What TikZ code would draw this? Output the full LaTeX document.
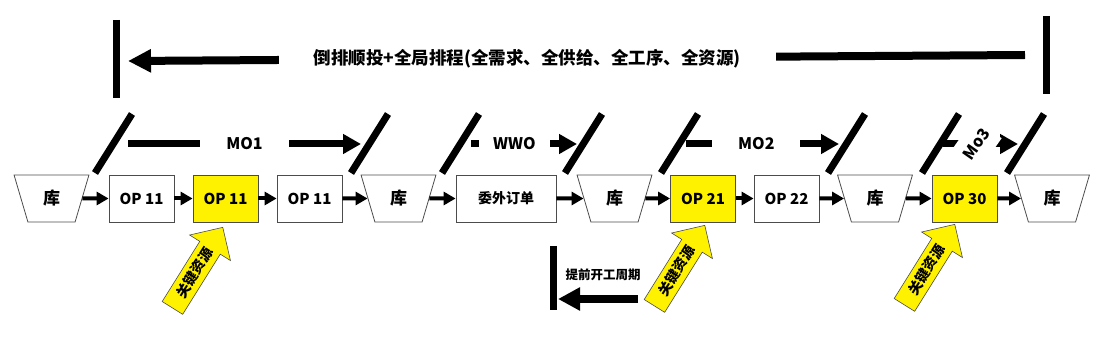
\documentclass[tikz,border=0pt]{standalone}
\usepackage{fontspec}
\setmainfont{Noto Sans CJK SC}
\usetikzlibrary{shapes.geometric,shapes.arrows,arrows.meta}

\begin{document}
\begin{tikzpicture}[x=1pt,y=-1pt,
  op/.style={draw=black!70,line width=0.8pt,minimum width=65pt,minimum height=47pt,inner sep=0pt,font=\fontsize{15}{18}\selectfont\bfseries},
  crit/.style={op,fill=yellow},
  ku/.style={trapezium,shape border rotate=180,trapezium stretches=true,trapezium angle=73,draw=black!70,line width=0.8pt,minimum width=75pt,minimum height=47pt,inner sep=0pt,font=\fontsize{17}{20}\selectfont\bfseries},
  flow/.style={line width=4pt,-{Triangle[length=12pt,width=13pt]}},
  bar/.style={line width=7pt},
  mo/.style={line width=7pt,-{Triangle[length=18pt,width=19pt]}},
  molabel/.style={fill=white,inner xsep=0pt,inner ysep=2pt,font=\fontsize{16}{19}\selectfont\bfseries},
  keyres/.style={single arrow,draw=black!70,fill=yellow,line width=0.6pt,minimum height=95pt,single arrow head extend=12pt,inner xsep=2pt,inner ysep=5pt,anchor=tip,rotate=58,font=\fontsize{14}{16}\selectfont\bfseries}]
 \useasboundingbox (0,0) rectangle (1112,339);
 % top: backward scheduling span
 \coordinate (tR) at (1025,55); \coordinate (tL) at (128,61);
 \draw[bar] (116,20) -- (116,98); \draw[bar] (1046,16) -- (1046,94);
 \draw[line width=8pt,-{Triangle[length=23pt,width=22pt]}] (tR) -- node[pos=0.555,fill=white,inner xsep=35pt,inner ysep=2pt,font=\fontsize{17.5}{20}\selectfont\bfseries] (title) {倒排顺投+全局排程(全需求、全供给、全工序、全资源)} (tL);
 % order segments
 \coordinate (m1s) at (128,144); \coordinate (m1e) at (361,144);
 \coordinate (w1s) at (471,144); \coordinate (w1e) at (577,144);
 \coordinate (m2s) at (686,144); \coordinate (m2e) at (839,144);
 \coordinate (m3s) at (943,144); \coordinate (m3e) at (1018,144);
 \draw[mo] (m1s) -- node[molabel,minimum width=89pt] (mo1) {MO1} (m1e);
 \draw[mo] (w1s) -- node[molabel,pos=0.41,minimum width=71pt] (wwo) {WWO} (w1e);
 \draw[mo] (m2s) -- node[molabel,pos=0.46,minimum width=88pt] (mo2) {MO2} (m2e);
 \draw[mo] (m3s) -- node[molabel,pos=0.45,rotate=55,inner xsep=2pt,inner ysep=11pt] (mo3) {Mo3} (m3e);
 \foreach \x in {95,351,442,565,661,828,922,1007} \draw[bar] (\x,173) -- ++(37,-59);
 % process row
 \node[ku] (k1) at (51.5,198.5) {库};
 \node[op] (op1) at (141.5,198.5) {OP 11};
 \node[crit] (op2) at (225.5,198.5) {OP 11};
 \node[op] (op3) at (309.5,198.5) {OP 11};
 \node[ku] (k2) at (398.5,198.5) {库};
 \node[op,minimum width=100pt,font=\fontsize{14}{17}\selectfont\bfseries] (ww) at (506,198.5) {委外订单};
 \node[ku] (k3) at (614.5,198.5) {库};
 \node[crit] (op4) at (703,198.5) {OP 21};
 \node[op] (op5) at (786.5,198.5) {OP 22};
 \node[ku] (k4) at (875,198.5) {库};
 \node[crit] (op6) at (964.5,198.5) {OP 30};
 \node[ku] (k5) at (1052,198.5) {库};
 \foreach \a/\b in {k1/op1,op1/op2,op2/op3,op3/k2,k2/ww,ww/k3,k3/op4,op4/op5,op5/k4,k4/op6,op6/k5} \draw[flow] (\a) -- (\b);
 % key resources
 \node[keyres] (kr1) at (223,227) {关键资源};
 \node[keyres] (kr2) at (705,225) {关键资源};
 \node[keyres] (kr3) at (955,224) {关键资源};
 % lead time
 \coordinate (lts) at (638,299); \coordinate (lte) at (558,299);
 \draw[bar] (553,246) -- (553,310);
 \draw[line width=8pt,-{Triangle[length=22pt,width=22pt]}] (lts) -- (lte);
 \node[font=\fontsize{12.5}{15}\selectfont\bfseries] (lt) at (603,275) {提前开工周期};
\end{tikzpicture}
\end{document}
